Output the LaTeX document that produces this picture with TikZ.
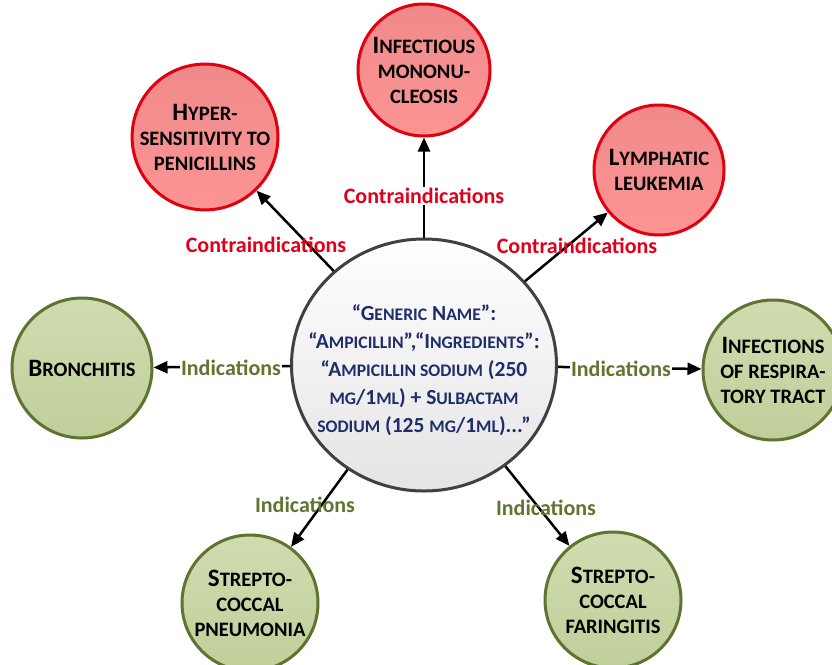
\documentclass[tikz,border=0pt]{standalone}
\usepackage{fontspec}
\setmainfont{Carlito}
\usetikzlibrary{arrows.meta,shapes.geometric}
\makeatletter
\newcommand\lc[1]{{\fontsize{\fpeval{0.82*\f@size}}{\f@baselineskip}\selectfont #1}}
\makeatother
\definecolor{redline}{HTML}{E00010}
\definecolor{greenline}{HTML}{5E7430}
\definecolor{navy}{HTML}{1F2D6B}
\definecolor{labred}{HTML}{E0001A}
\definecolor{labgreen}{HTML}{5F7530}
\tikzset{
  redcirc/.style={circle, draw=redline, line width=3pt, top color={rgb,255:red,240;green,138;blue,138}, bottom color={rgb,255:red,252;green,148;blue,148}, align=center, font=\bfseries\fontsize{25}{25}\selectfont, inner sep=0pt},
  greencirc/.style={circle, draw=greenline, line width=3pt, top color={rgb,255:red,208;green,220;blue,176}, bottom color={rgb,255:red,192;green,207;blue,154}, align=center, font=\bfseries\fontsize{25}{25}\selectfont, inner sep=0pt},
  centre/.style={ellipse, draw={rgb,255:red,64;green,64;blue,64}, line width=3pt, top color=white, bottom color={rgb,255:red,228;green,228;blue,228}, inner sep=0pt, minimum width=265pt, minimum height=252pt},
  centretext/.style={align=center, text=navy, font=\bfseries\fontsize{21.5}{28}\selectfont, inner sep=0pt},
  arr/.style={line width=2.5pt, -{Triangle[length=14pt,width=12pt]}},
  redlab/.style={text=labred, font=\bfseries\fontsize{22}{24}\selectfont, inner sep=1pt},
  greenlab/.style={text=labgreen, font=\bfseries\fontsize{22}{24}\selectfont, inner sep=1pt},
}
\begin{document}
\begin{tikzpicture}[x=1pt,y=-1pt]
\useasboundingbox (0,0) rectangle (832,664);
\node[centre] (c) at (424,365) {};
\node[centretext] (ct) at (424,370) {“G\lc{ENERIC} N\lc{AME}”:\\“A\lc{MPICILLIN}”,“I\lc{NGREDIENTS}”:\\“A\lc{MPICILLIN SODIUM} (250\\\lc{MG}/1\lc{ML}) + S\lc{ULBACTAM}\\\lc{SODIUM} (125 \lc{MG}/1\lc{ML})...”};
\node[redcirc, minimum size=142pt] (hyp) at (205,137) {H\lc{YPER-}\\\lc{SENSITIVITY TO}\\\lc{PENICILLINS}};
\node[redcirc, minimum size=132pt] (inf) at (424,70) {I\lc{NFECTIOUS}\\\lc{MONONU-}\\\lc{CLEOSIS}};
\node[redcirc, minimum size=130pt] (lym) at (659,170) {L\lc{YMPHATIC}\\\lc{LEUKEMIA}};
\node[greencirc, minimum size=140pt] (bro) at (82,368) {B\lc{RONCHITIS}};
\node[greencirc, minimum size=140pt] (res) at (773,370) {I\lc{NFECTIONS}\\\lc{OF RESPIRA-}\\\lc{TORY TRACT}};
\node[greencirc, minimum size=136pt] (pne) at (250,603) {S\lc{TREPTO-}\\\lc{COCCAL}\\\lc{PNEUMONIA}};
\node[greencirc, minimum size=136pt] (far) at (613,600) {S\lc{TREPTO-}\\\lc{COCCAL}\\\lc{FARINGITIS}};
\draw[arr] (c) -- (hyp);
\draw[arr] (c) -- (inf);
\draw[arr] (c) -- (lym);
\draw[arr] (c) -- (bro);
\draw[arr] (c) -- (res);
\draw[arr] (c) -- (pne);
\draw[arr] (c) -- (far);
\node[redlab] (l1) at (266,245) {Contraindications};
\node[redlab, fill=white] (l2) at (424,196) {Contraindications};
\node[redlab] (l3) at (577,246) {Contraindications};
\node[greenlab, fill=white] (l4) at (231,368) {Indications};
\node[greenlab, fill=white] (l5) at (621,369) {Indications};
\node[greenlab] (l6) at (305,505) {Indications};
\node[greenlab] (l7) at (546,508) {Indications};
\end{tikzpicture}
\end{document}
